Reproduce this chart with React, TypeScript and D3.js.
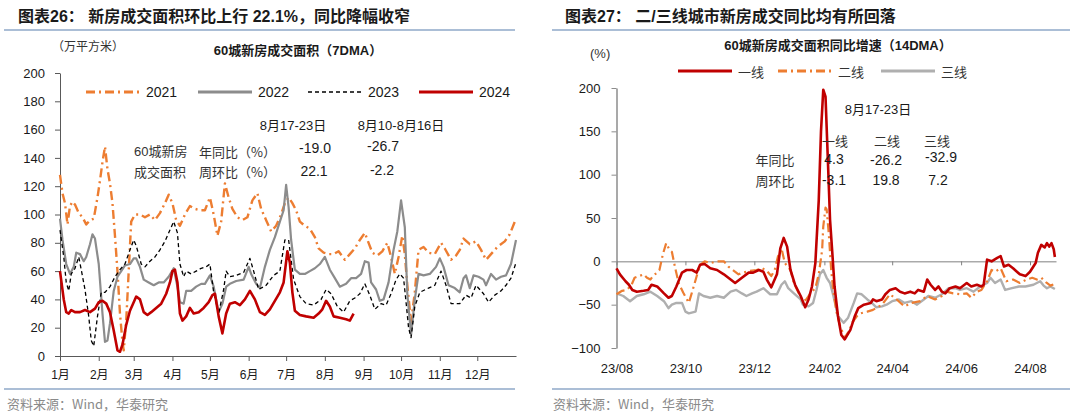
import * as d3 from "d3";
import { useEffect, useRef } from "react";

type Pt = [number, number];

// ---------- left panel: 60-city new home sales area (7DMA), x = day of year ----------
const monthLabels = ["1月", "2月", "3月", "4月", "5月", "6月", "7月", "8月", "9月", "10月", "11月", "12月"];
const monthStartDays = [0, 31, 59, 90, 120, 151, 181, 212, 243, 273, 304, 334];
const leftYTicks = [0, 20, 40, 60, 80, 100, 120, 140, 160, 180, 200];

const s2021: Pt[] = [
  [0, 128], [2, 115], [4, 108], [6, 93], [8, 106], [10, 109], [12, 107], [15, 101], [18, 98], [21, 93],
  [24, 96], [27, 97], [30, 112], [32, 124], [34, 137], [36, 148], [38, 132], [40, 122], [42, 108], [44, 85],
  [46, 60], [48, 30], [50, 10], [51, 4], [53, 25], [55, 60], [57, 95], [60, 100], [64, 100], [68, 98],
  [72, 100], [76, 96], [80, 101], [84, 108], [87, 114], [90, 108], [93, 96], [96, 92], [100, 100], [104, 106],
  [108, 104], [112, 103], [116, 103], [120, 112], [123, 100], [126, 85], [129, 95], [132, 122], [135, 112], [138, 104],
  [142, 98], [146, 96], [150, 98], [154, 110], [158, 115], [161, 104], [165, 96], [169, 88], [173, 92], [177, 100],
  [180, 108], [183, 112], [186, 108], [189, 103], [192, 95], [196, 92], [200, 90], [204, 84], [207, 76], [211, 73],
  [215, 72], [219, 72], [223, 74], [228, 68], [232, 72], [236, 76], [240, 82], [244, 87], [247, 80], [250, 73],
  [254, 71], [258, 74], [262, 80], [265, 70], [268, 58], [271, 70], [274, 85], [276, 72], [278, 50], [281, 24],
  [284, 45], [287, 75], [291, 77], [295, 73], [300, 72], [305, 80], [308, 76], [313, 68], [317, 71], [320, 75],
  [323, 83], [328, 79], [333, 81], [337, 75], [341, 68], [345, 72], [350, 77], [356, 81], [360, 86], [365, 97],
];

const s2022: Pt[] = [
  [0, 97], [2, 82], [5, 65], [8, 58], [11, 63], [13, 73], [16, 72], [19, 67], [21, 70], [24, 79],
  [26, 86], [28, 83], [31, 65], [34, 30], [36, 10], [38, 11], [40, 23], [43, 46], [46, 56], [49, 60],
  [52, 64], [56, 65], [59, 69], [61, 69], [64, 63], [67, 54], [71, 52], [75, 50], [79, 52], [83, 52],
  [87, 56], [91, 62], [94, 49], [96, 38], [99, 37], [101, 46], [105, 46], [109, 49], [113, 51], [116, 51],
  [120, 57], [123, 49], [127, 31], [130, 37], [133, 49], [136, 51], [141, 53], [147, 54], [151, 63], [153, 58],
  [157, 51], [160, 48], [164, 63], [168, 75], [172, 84], [176, 95], [179, 103], [181, 121], [183, 105], [185, 82],
  [188, 61], [192, 58], [196, 58], [200, 60], [204, 62], [208, 65], [212, 70], [216, 61], [220, 55], [224, 49],
  [229, 51], [233, 55], [237, 55], [241, 58], [244, 67], [247, 66], [249, 52], [253, 47], [256, 39], [259, 40],
  [263, 52], [267, 75], [270, 88], [273, 110], [276, 91], [278, 44], [281, 15], [284, 40], [287, 58], [291, 57],
  [296, 58], [301, 63], [304, 69], [307, 63], [311, 50], [316, 48], [320, 45], [323, 55], [325, 57], [328, 48],
  [331, 57], [335, 56], [339, 54], [341, 50], [345, 58], [349, 54], [353, 56], [357, 57], [361, 65], [365, 82],
];

const s2023: Pt[] = [
  [0, 89], [3, 70], [5, 52], [7, 46], [9, 58], [12, 62], [15, 70], [17, 61], [20, 47], [23, 28],
  [25, 11], [27, 7], [30, 28], [33, 45], [36, 45], [40, 49], [44, 56], [48, 61], [52, 65], [56, 75],
  [59, 82], [61, 78], [65, 65], [68, 63], [72, 67], [76, 70], [80, 75], [84, 81], [88, 89], [91, 95],
  [94, 87], [96, 65], [99, 56], [101, 60], [105, 58], [109, 60], [113, 62], [117, 63], [120, 65], [123, 45],
  [127, 30], [131, 47], [133, 60], [136, 56], [141, 57], [147, 59], [152, 69], [155, 60], [159, 47], [165, 50],
  [171, 57], [176, 60], [180, 82], [183, 82], [187, 54], [192, 42], [197, 37], [203, 36], [209, 40], [213, 47],
  [217, 44], [222, 35], [227, 31], [232, 39], [236, 41], [240, 44], [244, 51], [248, 43], [252, 33], [257, 37],
  [261, 36], [265, 44], [269, 54], [272, 58], [275, 55], [277, 38], [279, 20], [281, 13], [284, 35], [288, 45],
  [295, 48], [300, 50], [305, 60], [309, 50], [313, 37], [320, 37], [325, 43], [329, 41], [333, 50], [339, 44],
  [343, 38], [348, 43], [353, 46], [357, 50], [361, 55], [365, 66],
];

const s2024: Pt[] = [
  [0, 60], [3, 40], [5, 31], [7, 30], [9, 32.5], [12, 31], [16, 31], [20, 32.5], [24, 31], [28, 33.5],
  [31, 38], [34, 39], [37, 37], [40, 31], [43, 18], [46, 4], [48, 3], [50, 8], [53, 22], [56, 32],
  [59, 38], [61, 42], [64, 40], [67, 31], [70, 29], [73, 31], [77, 34], [81, 37], [85, 44], [88, 52],
  [90, 60], [92, 61], [94, 52], [96, 30], [98, 25], [101, 28], [104, 34], [107, 30], [111, 31], [115, 34],
  [119, 38], [122, 43], [124, 44], [127, 28], [130, 16], [133, 30], [136, 37], [140, 38], [144, 36], [148, 40],
  [152, 46], [156, 40], [160, 31], [164, 29], [168, 33], [172, 39], [176, 45], [179, 52], [182, 74], [184, 66],
  [186, 45], [188, 32], [192, 29], [197, 28], [203, 27], [207, 30], [210, 33], [213, 39], [216, 35], [219, 28],
  [224, 27], [229, 26], [232, 25], [235, 30],
];

// ---------- right panel: YoY growth (14DMA), x = days since 2023-08-01 ----------
const rightStart = new Date(2023, 7, 1);
const rightEnd = new Date(2024, 7, 24);
const rightTickDates = [
  new Date(2023, 7, 1), new Date(2023, 9, 1), new Date(2023, 11, 1), new Date(2024, 1, 1),
  new Date(2024, 3, 1), new Date(2024, 5, 1), new Date(2024, 7, 1),
];
const rightTickLabels = ["23/08", "23/10", "23/12", "24/02", "24/04", "24/06", "24/08"];
const rightYTicks = [-100, -50, 0, 50, 100, 150, 200];

const tier1: Pt[] = [
  [0, -8], [3, -15], [8, -23], [11, -27], [14, -33], [18, -35], [24, -34], [28, -33], [31, -27], [36, -29],
  [39, -33], [42, -37], [46, -42], [49, -40], [53, -29], [58, -13], [62, -10], [67, -10], [71, -13], [74, -4],
  [78, -3], [83, -8], [89, -10], [95, -15], [101, -21], [105, -25], [111, -19], [117, -13], [121, -13], [126, -10],
  [130, -12], [133, -21], [137, -30], [142, -15], [145, 15], [148, 27], [151, 17], [154, -10], [158, -27], [163, -40],
  [167, -53], [170, -44], [173, -29], [176, -2], [179, 70], [181, 150], [183, 198], [185, 190], [187, 120], [189, 48],
  [191, 10], [193, -29], [196, -63], [199, -85], [202, -90], [207, -79], [211, -63], [214, -54], [219, -50], [225, -48],
  [227, -44], [230, -46], [235, -44], [238, -38], [242, -33], [247, -31], [251, -35], [255, -37], [260, -35], [264, -37],
  [267, -33], [272, -35], [275, -21], [278, -27], [282, -33], [285, -29], [288, -35], [291, -37], [295, -31], [300, -29],
  [304, -31], [310, -25], [314, -29], [319, -27], [323, -29], [325, -27], [328, 2], [332, 0], [337, 4], [340, 6],
  [343, -6], [347, -4], [351, -8], [357, -15], [362, -17], [366, -12], [371, -2], [373, 10], [376, 19], [379, 16],
  [381, 21], [383, 17], [385, 21], [387, 14], [388, 5],
];

const tier2: Pt[] = [
  [0, -38], [5, -34], [9, -33], [13, -28], [16, -19], [20, -17], [24, -15], [27, -19], [30, -21], [33, -16],
  [36, -13], [38, -10], [41, 8], [44, 21], [47, 13], [49, 11], [52, -8], [55, -25], [59, -36], [64, -48],
  [67, -35], [71, -17], [74, -4], [78, 0], [83, -2], [89, 0], [95, 0], [99, -6], [103, -10], [108, -15],
  [112, -13], [118, -11], [124, -10], [129, -8], [133, -11], [137, -17], [140, -10], [143, 6], [146, 15], [149, -2],
  [154, -10], [157, -25], [161, -36], [165, -46], [168, -44], [171, -38], [176, -31], [179, -15], [182, 13], [183, 40],
  [185, 62], [186, 60], [188, 30], [190, -10], [192, -35], [195, -60], [198, -75], [202, -88], [206, -80], [209, -70],
  [213, -63], [216, -60], [222, -58], [227, -56], [235, -50], [242, -38], [248, -44], [255, -52], [261, -48], [269, -46],
  [275, -40], [282, -44], [288, -40], [292, -35], [298, -37], [304, -38], [310, -37], [314, -42], [319, -35], [323, -33],
  [328, -23], [332, -10], [335, -12], [340, -8], [345, -23], [351, -21], [357, -25], [363, -21], [368, -19], [372, -21],
  [376, -19], [380, -24], [384, -28], [388, -26],
];

const tier3: Pt[] = [
  [0, -37], [6, -40], [12, -46], [18, -40], [24, -38], [30, -35], [36, -40], [42, -46], [46, -54], [49, -50],
  [53, -48], [58, -48], [61, -58], [64, -60], [70, -58], [73, -37], [77, -40], [83, -42], [89, -40], [95, -42],
  [101, -35], [106, -33], [111, -37], [115, -40], [120, -37], [124, -35], [130, -31], [136, -38], [142, -38], [146, -27],
  [149, -23], [152, -31], [157, -37], [163, -44], [165, -50], [170, -52], [174, -48], [177, -33], [180, -15], [183, -10],
  [186, -19], [189, -25], [192, -40], [196, -63], [201, -71], [205, -65], [210, -48], [213, -37], [217, -38], [222, -44],
  [226, -48], [230, -53], [235, -52], [239, -50], [244, -46], [250, -44], [255, -48], [261, -46], [266, -50], [272, -44],
  [276, -40], [282, -42], [288, -38], [294, -31], [300, -31], [304, -33], [310, -31], [316, -35], [322, -29], [328, -25],
  [331, -19], [335, -25], [340, -21], [344, -33], [350, -31], [356, -29], [362, -29], [369, -27], [375, -23], [378, -28],
  [381, -31], [384, -29], [388, -32],
];

const NUM = "'Liberation Sans', Arial, 'Noto Sans CJK SC', sans-serif";
const CJK = "'Noto Sans CJK SC', sans-serif";
const ORANGE = "#ED7D31";
const RED = "#C00000";
const DASHDOT = "9,4,2,4";

const App: React.FC = () => {
  const ref = useRef<SVGSVGElement | null>(null);

  useEffect(() => {
    const svg = d3.select(ref.current);
    svg.selectAll("*").remove();

    const text = (x: number, y: number, s: string, size: number, opts: any = {}) =>
      svg
        .append("text")
        .attr("x", x)
        .attr("y", y)
        .attr("dominant-baseline", "central")
        .attr("text-anchor", opts.anchor ?? "start")
        .attr("font-family", opts.family ?? NUM)
        .attr("font-size", size)
        .attr("font-weight", opts.weight ?? "normal")
        .attr("fill", opts.fill ?? "#1a1a1a")
        .text(s);

    // panel frames: titles, rules, sources
    text(18, 16, "图表26：  新房成交面积环比上行 22.1%，同比降幅收窄", 16, { weight: "bold", family: NUM });
    text(565, 16, "图表27：  二/三线城市新房成交同比均有所回落", 16, { weight: "bold", family: NUM });
    [[4, 515], [552, 1070]].forEach(([a, b]) => {
      svg.append("line").attr("x1", a).attr("x2", b).attr("y1", 30).attr("y2", 30).attr("stroke", "#8FA8C8").attr("stroke-width", 1.5);
      svg.append("line").attr("x1", a).attr("x2", b).attr("y1", 389).attr("y2", 389).attr("stroke", "#8FA8C8").attr("stroke-width", 1.5);
    });
    text(7, 403, "资料来源：Wind，华泰研究", 13, { fill: "#8a8a8a", family: CJK });
    text(553, 403, "资料来源：Wind，华泰研究", 13, { fill: "#8a8a8a", family: CJK });

    // ================= LEFT =================
    const xL = d3.scaleLinear().domain([0, 365]).range([60, 516]);
    const yL = d3.scaleLinear().domain([0, 200]).range([356, 73]);

    text(52, 45, "（万平方米）", 12, { family: CJK, fill: "#333" });
    text(298, 50, "60城新房成交面积（7DMA）", 13, { anchor: "middle", weight: "bold" });

    const gyL = svg
      .append("g")
      .attr("transform", `translate(${xL(0)},0)`)
      .call(d3.axisLeft(yL).tickValues(leftYTicks).tickSize(5).tickSizeOuter(0).tickPadding(10));
    const gxL = svg
      .append("g")
      .attr("transform", `translate(0,${yL(0)})`)
      .call(
        d3
          .axisBottom(xL)
          .tickValues(monthStartDays)
          .tickFormat((_, i) => monthLabels[i])
          .tickSize(5)
          .tickSizeOuter(0)
          .tickPadding(9)
      );
    [gyL, gxL].forEach((g) => {
      g.select(".domain").attr("stroke", "#595959");
      g.selectAll(".tick line").attr("stroke", "#595959");
      g.selectAll("text").attr("font-family", NUM).attr("font-size", 13).attr("fill", "#1a1a1a");
    });
    gxL.selectAll("text").attr("font-size", 12);

    const lineL = d3
      .line<Pt>()
      .x((d) => xL(d[0]))
      .y((d) => yL(d[1]));

    const leftSeries = [
      { data: s2021, color: ORANGE, width: 2.4, dash: DASHDOT, name: "2021", lx: 86 },
      { data: s2022, color: "#8C8C8C", width: 2.2, dash: null, name: "2022", lx: 198 },
      { data: s2023, color: "#000", width: 1.3, dash: "4,3", name: "2023", lx: 308 },
      { data: s2024, color: RED, width: 2.6, dash: null, name: "2024", lx: 419 },
    ];
    leftSeries.forEach((s) => {
      svg
        .append("path")
        .datum(s.data)
        .attr("d", lineL)
        .attr("fill", "none")
        .attr("stroke", s.color)
        .attr("stroke-width", s.width)
        .attr("stroke-linejoin", "round")
        .attr("stroke-dasharray", s.dash);
      svg
        .append("line")
        .attr("x1", s.lx)
        .attr("x2", s.lx + 54)
        .attr("y1", 92)
        .attr("y2", 92)
        .attr("stroke", s.color)
        .attr("stroke-width", s.name === "2023" ? 1.5 : 3)
        .attr("stroke-dasharray", s.dash);
      text(s.lx + 60, 92, s.name, 14);
    });

    // left annotation table
    text(293, 125, "8月17-23日", 13, { anchor: "middle" });
    text(401, 125, "8月10-8月16日", 13, { anchor: "middle" });
    text(134, 151, "60城新房", 13, { family: NUM, fill: "#333" });
    text(199, 151, "年同比（%）", 13, { family: CJK, fill: "#333" });
    text(134, 171, "成交面积", 13, { family: CJK, fill: "#333" });
    text(199, 171, "周环比（%）", 13, { family: CJK, fill: "#333" });
    text(315, 148, "-19.0", 14, { anchor: "middle" });
    text(383, 146, "-26.7", 14, { anchor: "middle" });
    text(314, 171, "22.1", 14, { anchor: "middle" });
    text(382, 170, "-2.2", 14, { anchor: "middle" });

    // ================= RIGHT =================
    const xR = d3.scaleTime().domain([rightStart, rightEnd]).range([616.5, 1056]);
    const yR = d3.scaleLinear().domain([-100, 200]).range([348, 88]);
    const dayToDate = (d: number) => d3.timeDay.offset(rightStart, d);

    text(590, 53, "(%)", 13, { fill: "#333" });
    text(838, 45, "60城新房成交面积同比增速（14DMA）", 13, { anchor: "middle", weight: "bold" });

    const gyR = svg
      .append("g")
      .attr("transform", `translate(${xR(rightStart)},0)`)
      .call(d3.axisLeft(yR).tickValues(rightYTicks).tickSize(5).tickSizeOuter(0).tickPadding(11));
    gyR.select(".domain").attr("stroke", "#8c8c8c").attr("stroke-width", 1.5);
    gyR.selectAll(".tick line").attr("stroke", "#8c8c8c");
    gyR.selectAll("text").attr("font-family", NUM).attr("font-size", 13).attr("fill", "#1a1a1a");

    // zero line with ticks
    const gzR = svg
      .append("g")
      .attr("transform", `translate(0,${yR(0)})`)
      .call(d3.axisBottom(xR).tickValues(rightTickDates).tickFormat(() => "").tickSize(4).tickSizeOuter(0));
    gzR.select(".domain").attr("stroke", "#808080");
    gzR.selectAll(".tick line").attr("stroke", "#808080");

    // bottom labels
    const gbR = svg
      .append("g")
      .attr("transform", `translate(0,${yR(-100)})`)
      .call(
        d3
          .axisBottom(xR)
          .tickValues(rightTickDates)
          .tickFormat((_, i) => rightTickLabels[i])
          .tickSize(0)
          .tickPadding(16)
      );
    gbR.select(".domain").remove();
    gbR.selectAll("text").attr("font-family", NUM).attr("font-size", 13).attr("fill", "#1a1a1a");

    const lineR = d3
      .line<Pt>()
      .x((d) => xR(dayToDate(d[0])))
      .y((d) => yR(d[1]));

    const rightSeries = [
      { data: tier3, color: "#AFAFAF", width: 2.4, dash: null, name: "三线", lx: 881 },
      { data: tier2, color: ORANGE, width: 2.2, dash: DASHDOT, name: "二线", lx: 778 },
      { data: tier1, color: RED, width: 2.6, dash: null, name: "一线", lx: 678 },
    ];
    rightSeries.forEach((s) => {
      svg
        .append("path")
        .datum(s.data)
        .attr("d", lineR)
        .attr("fill", "none")
        .attr("stroke", s.color)
        .attr("stroke-width", s.width)
        .attr("stroke-linejoin", "round")
        .attr("stroke-dasharray", s.dash);
      svg
        .append("line")
        .attr("x1", s.lx)
        .attr("x2", s.lx + 54)
        .attr("y1", 71)
        .attr("y2", 71)
        .attr("stroke", s.color)
        .attr("stroke-width", 3)
        .attr("stroke-dasharray", s.dash);
      text(s.lx + 60, 71, s.name, 13, { family: CJK, fill: "#333" });
    });

    // right annotation table
    text(878, 109, "8月17-23日", 13, { anchor: "middle" });
    text(835, 140, "一线", 13, { anchor: "middle", family: CJK, fill: "#333" });
    text(887, 140, "二线", 13, { anchor: "middle", family: CJK, fill: "#333" });
    text(937, 140, "三线", 13, { anchor: "middle", family: CJK, fill: "#333" });
    text(775, 159, "年同比", 13, { anchor: "middle", family: CJK, fill: "#333" });
    text(775, 180, "周环比", 13, { anchor: "middle", family: CJK, fill: "#333" });
    text(834, 159, "4.3", 14, { anchor: "middle" });
    text(886, 160, "-26.2", 14, { anchor: "middle" });
    text(941, 157, "-32.9", 14, { anchor: "middle" });
    text(834, 180, "-3.1", 14, { anchor: "middle" });
    text(886, 180, "19.8", 14, { anchor: "middle" });
    text(938, 180, "7.2", 14, { anchor: "middle" });
  }, []);

  return (
    <svg
      ref={ref}
      width={1080}
      height={412}
      style={{ position: "absolute", left: 0, top: 0, background: "#fff" }}
    ></svg>
  );
};

export default App;
